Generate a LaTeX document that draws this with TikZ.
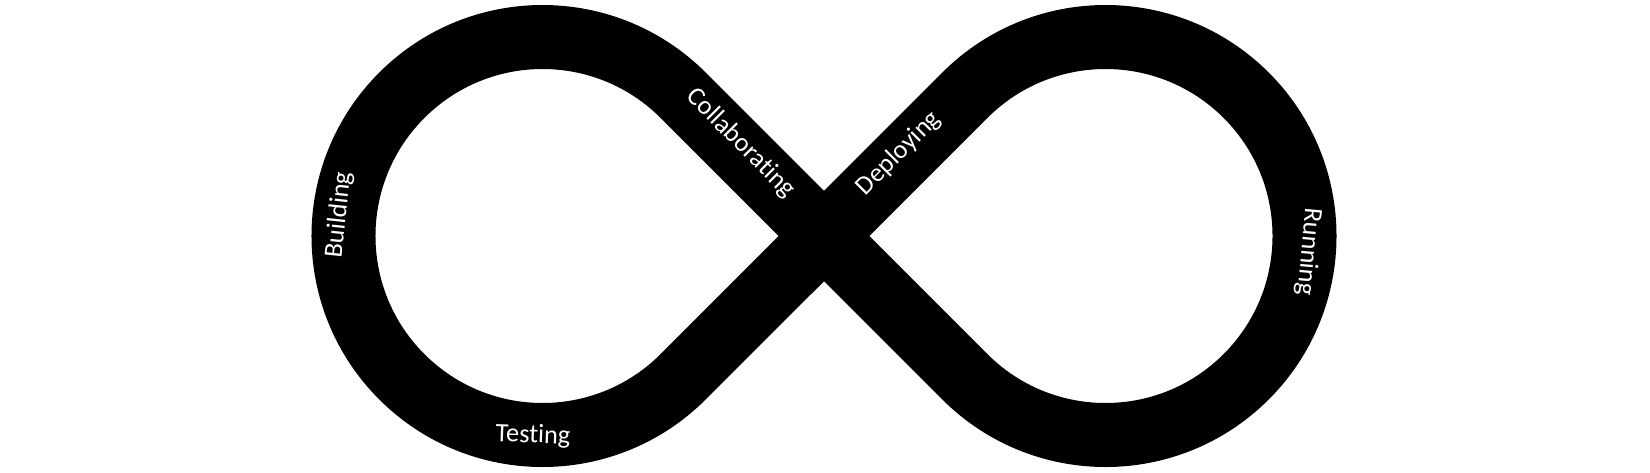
\documentclass[tikz,border=0pt]{standalone}
\usepackage{fontspec}
\setmainfont{Carlito}[Ligatures=NoCommon]
\begin{document}
\begin{tikzpicture}[x=1pt,y=1pt,
  band/.style={draw=black,line width=64pt},
  lbl/.style={text=white,inner sep=0pt,font=\fontsize{26.4}{30}\selectfont}]
\fill[white] (0,0) rectangle (1650,473);
\useasboundingbox (0,0) rectangle (1650,473);
\coordinate (L) at (542.5,237);
\coordinate (Rc) at (1105.5,237);
\coordinate (X) at (824,237);
\coordinate (T1) at (683.2,377.7);
\coordinate (T4) at (964.8,377.7);
\draw[band] (T1) arc[start angle=45,end angle=315,radius=199] -- (T4)
  arc[start angle=135,end angle=-135,radius=199] -- cycle;
\node[lbl,rotate=84] (building) at (339,258) {Building};
\node[lbl,rotate=-2] (testing) at (533,37) {Test\kern0pt ing};
\node[lbl,rotate=-45] (collab) at (741,329.7) {Collaborat\kern0pt ing};
\node[lbl,rotate=45] (deploy) at (898.8,319.7) {Deploying};
\node[lbl,rotate=-95] (running) at (1308.3,221.3) {Running};
\end{tikzpicture}
\end{document}
